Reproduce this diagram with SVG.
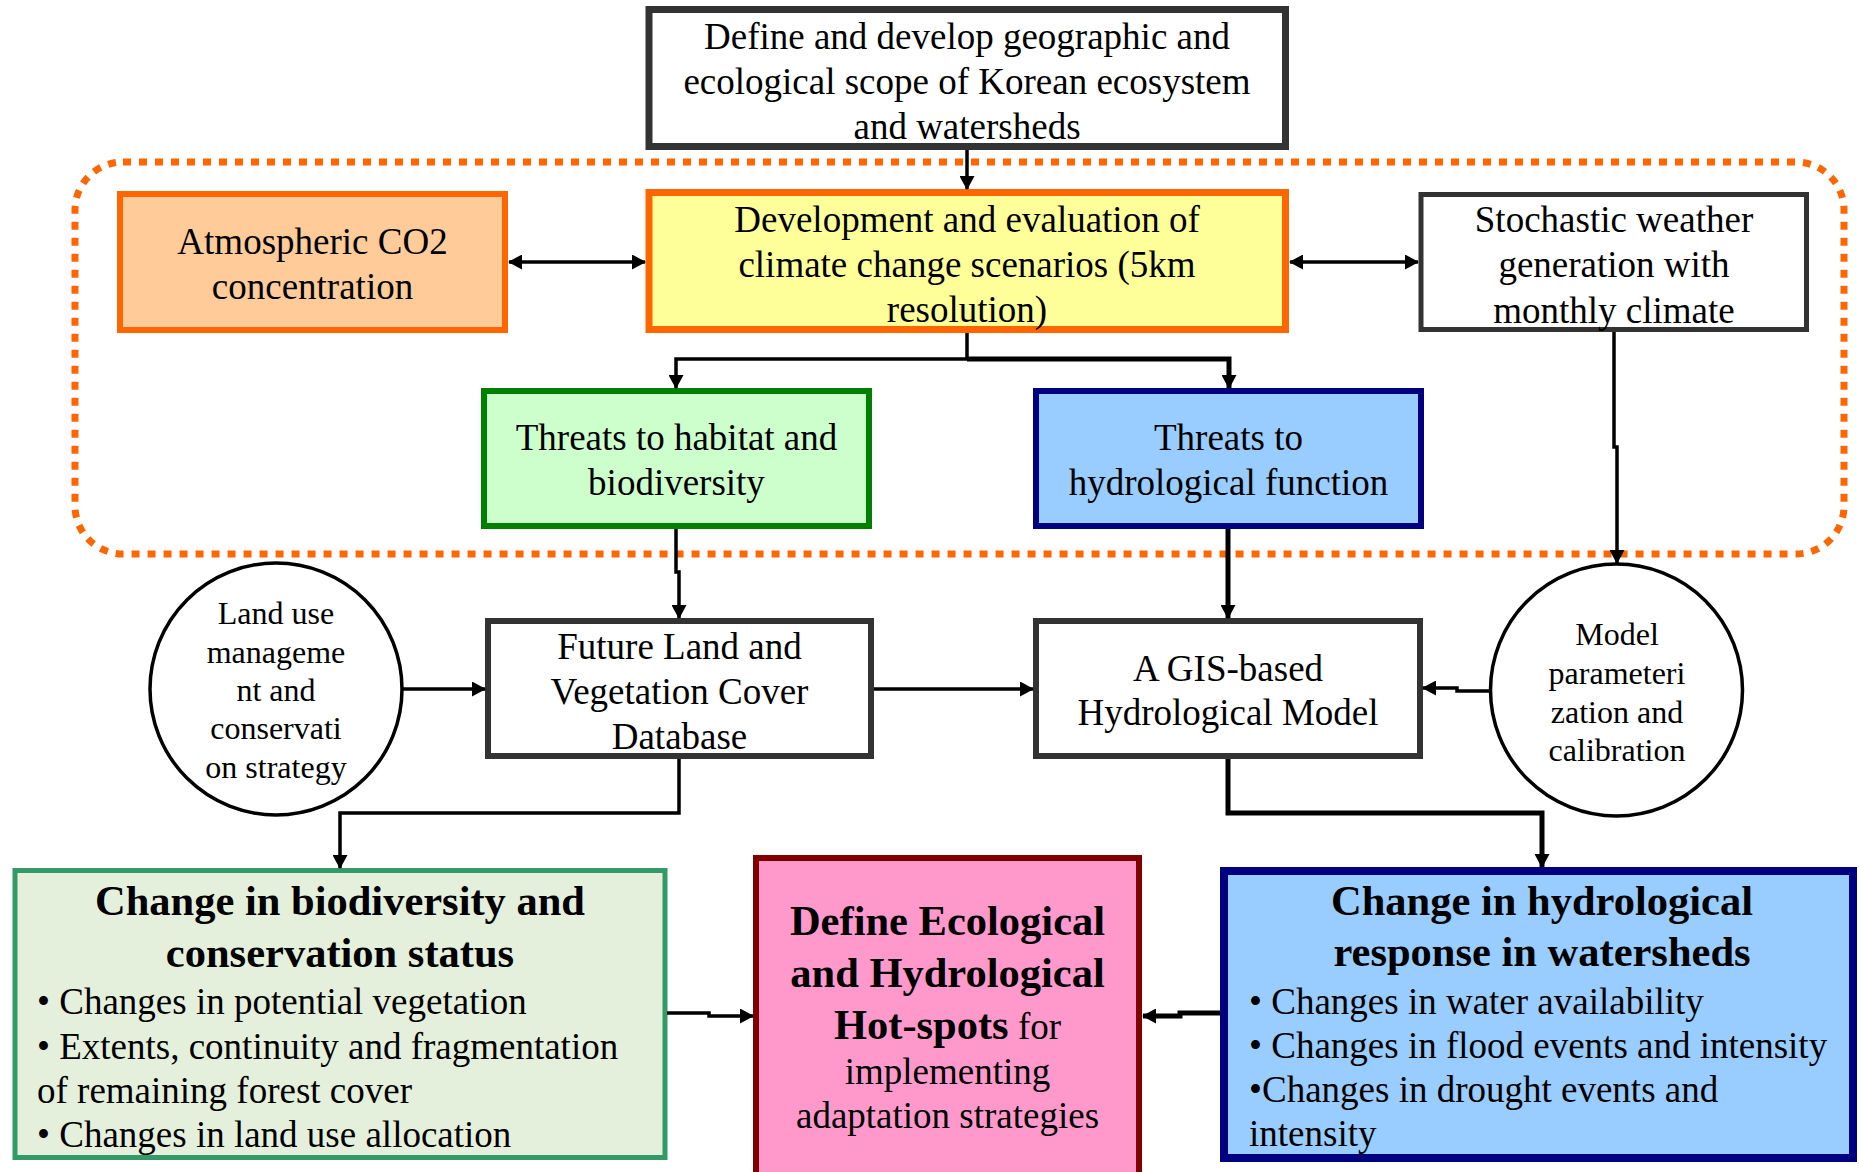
<svg xmlns="http://www.w3.org/2000/svg" width="1859" height="1172" viewBox="0 0 1859 1172">
<style>
text{font-family:"Liberation Serif","Times New Roman",serif;fill:#000}
.t{font-size:37px;text-anchor:middle}
.c{font-size:32px;text-anchor:middle}
.b{font-size:42.5px;font-weight:bold;text-anchor:middle}
.l{font-size:37px}
.conn{fill:none;stroke:#000;stroke-width:3.5}
.thick{stroke-width:5}
</style>
<defs>
<marker id="arr" markerUnits="userSpaceOnUse" markerWidth="14" markerHeight="15" viewBox="0 0 14 15" refX="13" refY="7.5" orient="auto-start-reverse">
<path d="M0 0 L14 7.5 L0 15 z" fill="#000"/>
</marker>
</defs>
<rect width="1859" height="1172" fill="#fff"/>

<rect id="scope" x="75" y="162" width="1769" height="392" rx="48" fill="none" stroke="#FF6600" stroke-width="7" stroke-dasharray="8 8"/>

<g id="top-box">
<rect x="649" y="9.5" width="636.5" height="137" fill="#fff" stroke="#333" stroke-width="7"/>
<text class="t" x="967" y="49">Define and develop geographic and</text>
<text class="t" x="967" y="94">ecological scope of Korean ecosystem</text>
<text class="t" x="967" y="139">and watersheds</text>
</g>

<g id="climate">
<rect x="649" y="192.5" width="636.5" height="137" fill="#FFFF99" stroke="#FF6600" stroke-width="7"/>
<text class="t" x="967" y="232">Development and evaluation of</text>
<text class="t" x="967" y="277">climate change scenarios (5km</text>
<text class="t" x="967" y="322">resolution)</text>
</g>

<g id="co2">
<rect x="120" y="194" width="385" height="136" fill="#FFCC99" stroke="#FF6600" stroke-width="6"/>
<text class="t" x="312.5" y="254">Atmospheric CO2</text>
<text class="t" x="312.5" y="299">concentration</text>
</g>

<g id="weather">
<rect x="1421" y="194.5" width="385.5" height="135" fill="#fff" stroke="#333" stroke-width="5"/>
<text class="t" x="1614" y="232">Stochastic weather</text>
<text class="t" x="1614" y="277">generation with</text>
<text class="t" x="1614" y="323">monthly climate</text>
</g>

<g id="habitat">
<rect x="484" y="391" width="385" height="135" fill="#CCFFCC" stroke="#008000" stroke-width="6"/>
<text class="t" x="676.5" y="450">Threats to habitat and</text>
<text class="t" x="676.5" y="495">biodiversity</text>
</g>

<g id="hydro-threat">
<rect x="1036" y="391" width="385" height="135" fill="#99CCFF" stroke="#000080" stroke-width="6"/>
<text class="t" x="1228.5" y="450">Threats to</text>
<text class="t" x="1228.5" y="495">hydrological function</text>
</g>

<g id="landuse">
<circle cx="276" cy="689" r="126" fill="#fff" stroke="#000" stroke-width="3.5"/>
<text class="c" x="276" y="624">Land use</text>
<text class="c" x="276" y="663">manageme</text>
<text class="c" x="276" y="701">nt and</text>
<text class="c" x="276" y="739">conservati</text>
<text class="c" x="276" y="778">on strategy</text>
</g>

<g id="future">
<rect x="488" y="621" width="383" height="135" fill="#fff" stroke="#333" stroke-width="6"/>
<text class="t" x="679.5" y="659">Future Land and</text>
<text class="t" x="679.5" y="704">Vegetation Cover</text>
<text class="t" x="679.5" y="749">Database</text>
</g>

<g id="gis">
<rect x="1036" y="621" width="384" height="135" fill="#fff" stroke="#333" stroke-width="6"/>
<text class="t" x="1228" y="681">A GIS-based</text>
<text class="t" x="1228" y="725">Hydrological Model</text>
</g>

<g id="calib">
<circle cx="1616.5" cy="690" r="126" fill="#fff" stroke="#000" stroke-width="3.5"/>
<text class="c" x="1617" y="645">Model</text>
<text class="c" x="1617" y="684">parameteri</text>
<text class="c" x="1617" y="723">zation and</text>
<text class="c" x="1617" y="761">calibration</text>
</g>

<g id="biodiversity">
<rect x="15" y="870.5" width="650" height="287" fill="#E4F0DC" stroke="#339966" stroke-width="5"/>
<text class="b" x="340" y="915">Change in biodiversity and</text>
<text class="b" x="340" y="967">conservation status</text>
<text class="l" x="37" y="1014">• Changes in potential vegetation</text>
<text class="l" x="37" y="1059">• Extents, continuity and fragmentation</text>
<text class="l" x="37" y="1103">of remaining forest cover</text>
<text class="l" x="37" y="1147">• Changes in land use allocation</text>
</g>

<g id="hotspots">
<rect x="756" y="858" width="383" height="330" fill="#FF99CC" stroke="#800000" stroke-width="6"/>
<text class="b" x="947.5" y="935">Define Ecological</text>
<text class="b" x="947.5" y="987">and Hydrological</text>
<text class="b" x="947.5" y="1039">Hot-spots<tspan font-weight="normal" font-size="37"> for</tspan></text>
<text class="t" x="947.5" y="1084">implementing</text>
<text class="t" x="947.5" y="1128">adaptation strategies</text>
</g>

<g id="hydro-change">
<rect x="1224" y="871" width="629" height="287" fill="#99CCFF" stroke="#000080" stroke-width="8"/>
<text class="b" x="1542" y="915">Change in hydrological</text>
<text class="b" x="1542" y="966">response in watersheds</text>
<text class="l" x="1249" y="1014">• Changes in water availability</text>
<text class="l" x="1249" y="1058">• Changes in flood events and intensity</text>
<text class="l" x="1249" y="1102">•Changes in drought events and</text>
<text class="l" x="1249" y="1146">intensity</text>
</g>

<g id="connectors">
<path class="conn" d="M967 150 V189" marker-end="url(#arr)"/>
<path class="conn" d="M509 262 H645" marker-start="url(#arr)" marker-end="url(#arr)"/>
<path class="conn" d="M1290 262 H1418" marker-start="url(#arr)" marker-end="url(#arr)"/>
<path class="conn" d="M967 333 V359 H676 V388" marker-end="url(#arr)"/>
<path class="conn thick" d="M967 359 H1229 V388" marker-end="url(#arr)"/>
<path class="conn" d="M676 529 V572 H679 V618" marker-end="url(#arr)"/>
<path class="conn thick" d="M1228 529 V618" marker-end="url(#arr)"/>
<path class="conn" d="M1614 332 V447 H1617 V563" marker-end="url(#arr)"/>
<path class="conn" d="M403 689 H485" marker-end="url(#arr)"/>
<path class="conn" d="M874 689 H1033" marker-end="url(#arr)"/>
<path class="conn" d="M1490 691 H1457 V688 H1423" marker-end="url(#arr)"/>
<path class="conn" d="M679 759 V813 H340 V868" marker-end="url(#arr)"/>
<path class="conn thick" d="M1228 759 V813 H1542 V867" marker-end="url(#arr)"/>
<path class="conn" d="M667 1013 H709 V1016 H753" marker-end="url(#arr)"/>
<path class="conn thick" d="M1220 1013 H1180 V1016 H1143" marker-end="url(#arr)"/>
</g>
</svg>
